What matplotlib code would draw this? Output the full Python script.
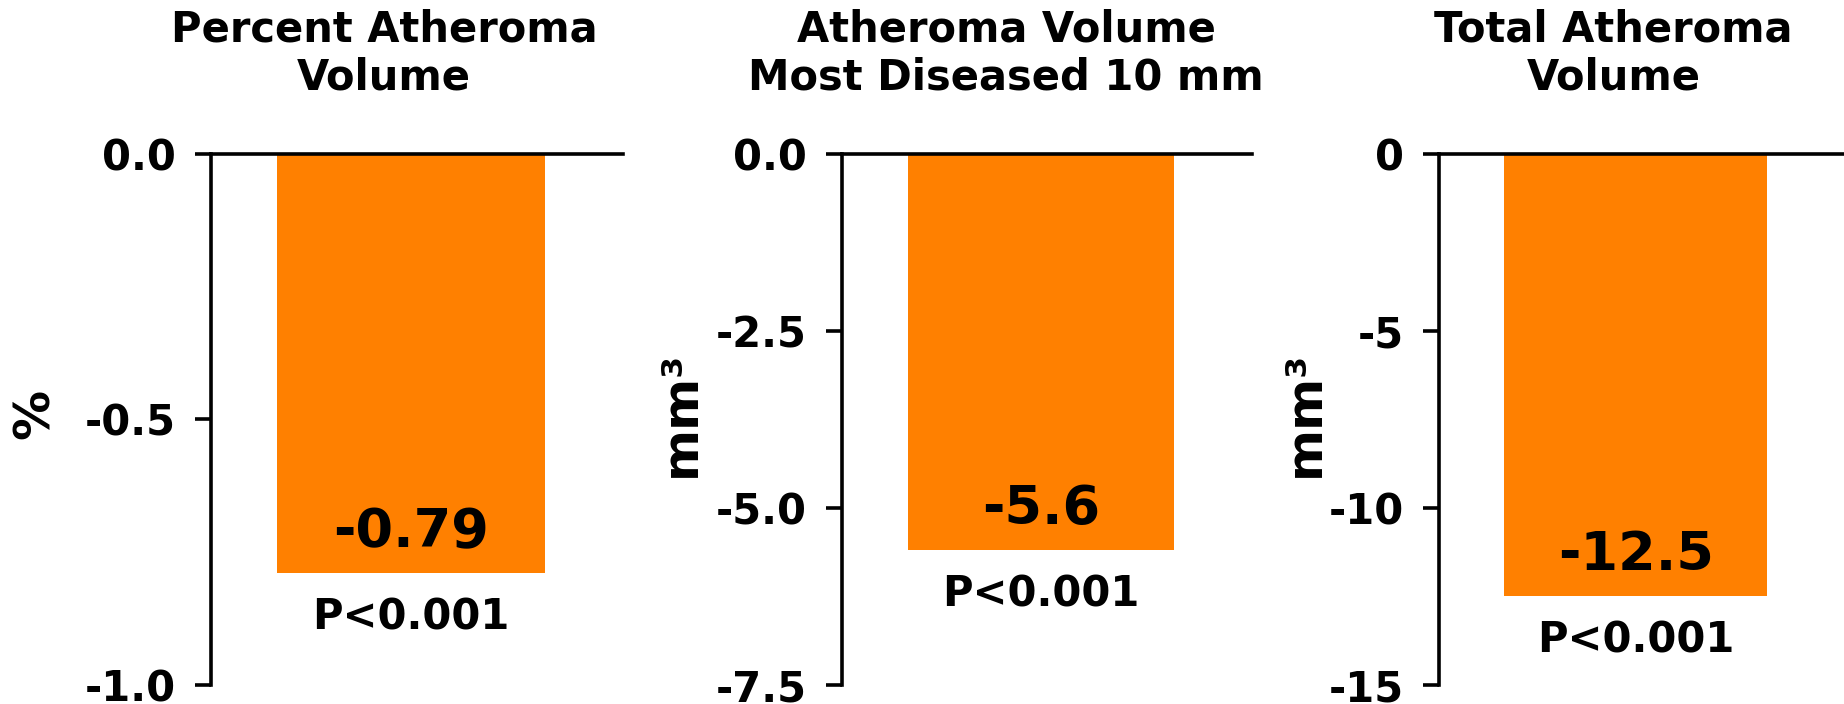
import matplotlib
matplotlib.use("Agg")
import matplotlib.pyplot as plt

# data
titles = ["Percent Atheroma\nVolume",
          "Atheroma Volume\nMost Diseased 10 mm",
          "Total Atheroma\nVolume"]
ylabels = ["%", "mm³", "mm³"]
values = [-0.79, -5.6, -12.5]
value_text = ["-0.79", "-5.6", "-12.5"]
p_text = ["P<0.001", "P<0.001", "P<0.001"]
yticks = [[0.0, -0.5, -1.0], [0.0, -2.5, -5.0, -7.5], [0, -5, -10, -15]]
ytick_labels = [["0.0", "-0.5", "-1.0"],
                ["0.0", "-2.5", "-5.0", "-7.5"],
                ["0", "-5", "-10", "-15"]]

# layout (figure fractions / axes fractions)
axes_rect = [[0.1144, 0.0273, 0.2234, 0.7545],
             [0.4568, 0.0273, 0.2221, 0.7545],
             [0.7806, 0.0273, 0.2194, 0.7545]]
label_x = [-0.427, -0.394, -0.333]
title_x = [0.42, 0.40, 0.43]

orange = "#FF8000"
plt.rcParams["font.family"] = ["DejaVu Sans"]
plt.rcParams["font.weight"] = "bold"

fig = plt.figure(figsize=(18.44, 7.04), dpi=100)

for i in range(3):
    ax = fig.add_axes(axes_rect[i])
    ax.bar([0], [values[i]], width=1.0, color=orange, align="center")
    ax.set_xlim(-0.746, 0.792)
    ax.set_ylim(yticks[i][-1], 0)
    ax.set_yticks(yticks[i])
    ax.set_yticklabels(ytick_labels[i], fontsize=30, fontweight="bold")
    ax.set_xticks([])
    for s in ["right", "bottom"]:
        ax.spines[s].set_visible(False)
    ax.spines["left"].set_linewidth(2.6)
    ax.spines["top"].set_linewidth(2.6)
    ax.tick_params(axis="y", direction="out", length=11.5, width=2.6, pad=14)

    ax.set_ylabel(ylabels[i], fontsize=36, fontweight="bold", va="center")
    ax.yaxis.set_label_coords(label_x[i], 0.51)

    ax.text(title_x[i], 1.0 + 100.0 / 531.2, titles[i], transform=ax.transAxes,
            ha="center", va="center", fontsize=30, fontweight="bold",
            linespacing=1.2)

    ax.annotate(value_text[i], xy=(0, values[i]), xytext=(0, 29.5),
                textcoords="offset points", ha="center", va="center",
                fontsize=39, fontweight="bold")
    ax.annotate(p_text[i], xy=(0, values[i]), xytext=(0, -32),
                textcoords="offset points", ha="center", va="center",
                fontsize=30, fontweight="bold")

fig.savefig("out.png", dpi=100)
